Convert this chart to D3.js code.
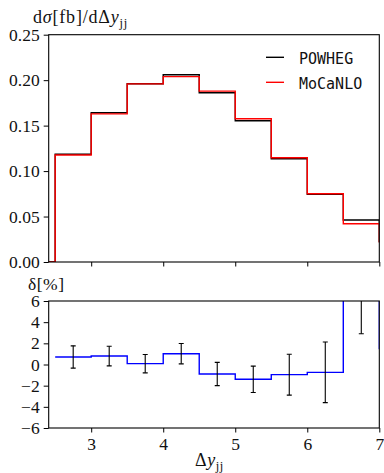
<!DOCTYPE html>
<html>
<head>
<meta charset="utf-8">
<script src="https://cdn.jsdelivr.net/npm/d3@7"></script>
<style>
  html, body { margin: 0; padding: 0; background: #fff; }
  svg { display: block; }
</style>
</head>
<body>
<svg id="chart" width="384" height="473"></svg>
<script>
// Bin edges in Δy_jj (first and last bins lie just outside the plotted range)
const binEdges = [2.0, 2.5, 3.0, 3.5, 4.0, 4.5, 5.0, 5.5, 6.0, 6.5, 7.0, 7.5];
// dσ/dΔy_jj [fb] per bin
const powheg  = [0, 0.1185, 0.1642, 0.1961, 0.2060, 0.1862, 0.1554, 0.1136, 0.0745, 0.0462, 0.0224];
const mocanlo = [0, 0.1177, 0.1629, 0.1959, 0.2039, 0.1879, 0.1576, 0.1147, 0.0751, 0.0421, 0.0221];
// relative difference δ [%] and its uncertainty
const delta    = [null, 0.71, 0.80, 0.08, 1.02, -0.90, -1.40, -0.96, -0.74, 9.70, 1.50];
const deltaErr = [null, 1.05, 0.93, 0.87, 0.96, 1.10, 1.25, 1.93, 2.86, 6.80, null];

const xTicks = [3, 4, 5, 6, 7];
const yTicksTop = [0, 0.05, 0.10, 0.15, 0.20, 0.25];
const yTicksBot = [-6, -4, -2, 0, 2, 4, 6];
const seriesNames = ["POWHEG", "MoCaNLO"];
const seriesColors = ["#000000", "#ff0000"];

const SERIF = '"Liberation Serif", "Times New Roman", serif';
const MONO = '"DejaVu Sans Mono", monospace';

const svg = d3.select("#chart");
const L = 48.7, R = 379.3;
const top1 = 34.7, bot1 = 262;
const top2 = 301, bot2 = 428;

const x = d3.scaleLinear().domain([2.41, 7]).range([L, R]);
const yTop = d3.scaleLinear().domain([0, 0.25]).range([bot1, top1]);
const yBot = d3.scaleLinear().domain([-6, 6]).range([bot2, top2]);

const defs = svg.append("defs");
defs.append("clipPath").attr("id", "clipTop").append("rect")
  .attr("x", L).attr("y", top1).attr("width", R - L).attr("height", bot1 - top1);
defs.append("clipPath").attr("id", "clipBot").append("rect")
  .attr("x", L).attr("y", top2).attr("width", R - L).attr("height", bot2 - top2);

function stepPoints(vals) {
  const pts = vals.map((v, i) => [binEdges[i], v]);
  pts.push([binEdges[binEdges.length - 1], vals[vals.length - 1]]);
  return pts;
}

// ---- upper panel: distributions ----
const lineTop = d3.line().x(d => x(d[0])).y(d => yTop(d[1])).curve(d3.curveStepAfter);
const gTop = svg.append("g").attr("clip-path", "url(#clipTop)");
[powheg, mocanlo].forEach((vals, k) => {
  gTop.append("path").attr("d", lineTop(stepPoints(vals)))
    .attr("fill", "none").attr("stroke", seriesColors[k]).attr("stroke-width", 1.4);
});

// ---- lower panel: relative difference ----
const lineBot = d3.line().defined(d => d[1] !== null)
  .x(d => x(d[0])).y(d => yBot(d[1])).curve(d3.curveStepAfter);
const gBot = svg.append("g").attr("clip-path", "url(#clipBot)");
gBot.append("path").attr("d", lineBot(stepPoints(delta)))
  .attr("fill", "none").attr("stroke", "#0000ff").attr("stroke-width", 1.4);

const errData = delta.map((d, i) => ({ c: (binEdges[i] + binEdges[i + 1]) / 2, d, e: deltaErr[i] }))
  .filter(o => o.d !== null && o.e !== null);
const eb = gBot.selectAll("g.err").data(errData).enter().append("g").attr("class", "err")
  .attr("stroke", "#000").attr("stroke-width", 1.1);
eb.append("line").attr("x1", o => x(o.c)).attr("x2", o => x(o.c))
  .attr("y1", o => yBot(o.d - o.e)).attr("y2", o => yBot(o.d + o.e));
eb.append("line").attr("x1", o => x(o.c) - 2.5).attr("x2", o => x(o.c) + 2.5)
  .attr("y1", o => yBot(o.d - o.e)).attr("y2", o => yBot(o.d - o.e));
eb.append("line").attr("x1", o => x(o.c) - 2.5).attr("x2", o => x(o.c) + 2.5)
  .attr("y1", o => yBot(o.d + o.e)).attr("y2", o => yBot(o.d + o.e));

// ---- axes ----
function styleAxis(g) {
  g.attr("font-family", SERIF).attr("font-size", 17.5);
  g.select(".domain").remove();
  g.selectAll(".tick line").attr("stroke", "#000").attr("stroke-width", 1);
  g.selectAll(".tick text").attr("fill", "#111");
}
svg.append("g").attr("transform", `translate(0,${bot1})`)
  .call(d3.axisBottom(x).tickValues(xTicks).tickSize(4.5).tickFormat(""))
  .call(styleAxis);
svg.append("g").attr("transform", `translate(${L},0)`)
  .call(d3.axisLeft(yTop).tickValues(yTicksTop).tickSize(5).tickPadding(4).tickFormat(d3.format(".2f")))
  .call(styleAxis);
svg.append("g").attr("transform", `translate(0,${bot2})`)
  .call(d3.axisBottom(x).tickValues(xTicks).tickSize(4.5).tickPadding(5).tickFormat(d3.format("d")))
  .call(styleAxis);
svg.append("g").attr("transform", `translate(${L},0)`)
  .call(d3.axisLeft(yBot).tickValues(yTicksBot).tickSize(5).tickPadding(4)
    .tickFormat(d => d < 0 ? "\u2212" + Math.abs(d) : String(d)))
  .call(styleAxis);

// frames
[[top1, bot1], [top2, bot2]].forEach(([t, b]) => {
  svg.append("rect").attr("x", L).attr("y", t).attr("width", R - L).attr("height", b - t)
    .attr("fill", "none").attr("stroke", "#000").attr("stroke-width", 1.1);
});

// ---- axis titles ----
const t1 = svg.append("text").attr("x", 33).attr("y", 23)
  .attr("font-family", SERIF).attr("font-size", 18).attr("letter-spacing", 0.8).attr("fill", "#111");
t1.append("tspan").text("d");
t1.append("tspan").attr("font-style", "italic").text("σ");
t1.append("tspan").text("[fb]/dΔ");
t1.append("tspan").attr("font-style", "italic").text("y");
t1.append("tspan").attr("dy", 4).attr("font-size", 12.5).text("jj");

svg.append("text").attr("x", 28).attr("y", 290)
  .attr("font-family", SERIF).attr("font-size", 17.5).attr("fill", "#111")
  .attr("letter-spacing", 0.5).text("δ[%]");

const t3 = svg.append("text").attr("x", 195).attr("y", 466)
  .attr("font-family", SERIF).attr("font-size", 18).attr("letter-spacing", 0.6).attr("fill", "#111");
t3.append("tspan").text("Δ");
t3.append("tspan").attr("font-style", "italic").text("y");
t3.append("tspan").attr("dy", 4).attr("font-size", 12.5).text("jj");

// ---- legend ----
const leg = svg.append("g");
seriesNames.forEach((name, k) => {
  const yy = 57.3 + k * 25;
  leg.append("line").attr("x1", 266).attr("x2", 284).attr("y1", yy).attr("y2", yy)
    .attr("stroke", seriesColors[k]).attr("stroke-width", 1.4);
  leg.append("text").attr("x", 299).attr("y", yy + 6.5)
    .attr("font-family", MONO).attr("font-size", 15).attr("fill", "#111").text(name);
});
</script>
</body>
</html>
